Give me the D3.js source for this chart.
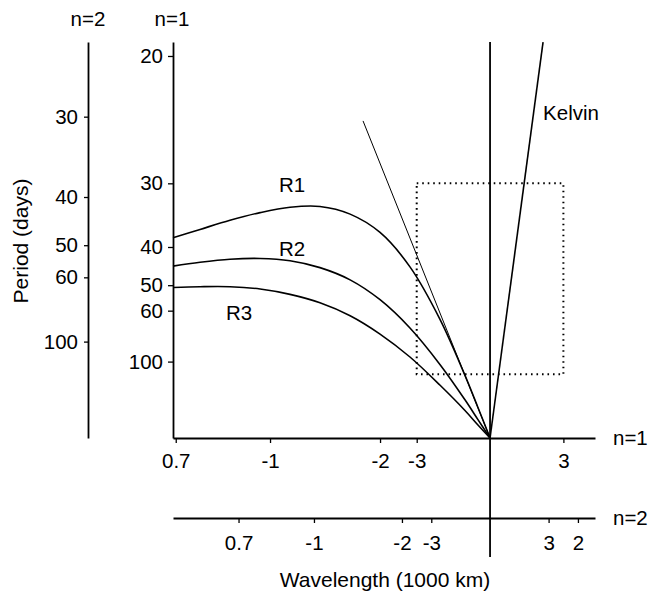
<!DOCTYPE html>
<html>
<head>
<meta charset="utf-8">
<script src="https://cdn.jsdelivr.net/npm/d3@7"></script>
<style>
  body { margin: 0; background: #fff; }
  svg text { font-family: "Liberation Sans", Arial, Helvetica, sans-serif; fill: #000; }
</style>
</head>
<body>
<svg id="canvas" width="652" height="593"></svg>
<script>
"use strict";

// === Data (wavenumber in cycles / 1000 km, frequency in cycles / day, n=1 units) ===
let waveNumber = [-1.441, -1.318, -1.182, -1.045, -0.909, -0.773, -0.636, -0.500, -0.364, -0.227, -0.114, -0.055, 0];
let r1Freq = [0.0262, 0.0273, 0.0285, 0.0295, 0.0302, 0.0303, 0.0293, 0.0269, 0.0224, 0.0155, 0.0082, 0.0040, 0];
let r2Freq = [0.0225, 0.0230, 0.0234, 0.0235, 0.0232, 0.0223, 0.0207, 0.0181, 0.0144, 0.0096, 0.0050, 0.0024, 0];
let r3Freq = [0.0197, 0.0198, 0.0198, 0.0195, 0.0188, 0.0177, 0.0160, 0.0136, 0.0106, 0.0069, 0.0036, 0.0017, 0];

let kelvinK = [0, 0.2409];
let kelvinF = [0, 0.0518];
let longWaveK = [-0.5773, 0];
let longWaveF = [0.0415, 0];

// box: wavelength +-3 (1000 km), period 30..120 days
let boxWavelength = 3;
let boxPeriods = [30, 120];

// tick labels
let periodTicks1 = [20, 30, 40, 50, 60, 100];
let periodTicks2 = [30, 40, 50, 60, 100];
let waveTicks1 = [-0.7, -1, -2, -3, 3];
let waveLabels1 = ["0.7", "-1", "-2", "-3", "3"];
let waveTicks2 = [-0.7, -1, -2, -3, 3, 2];
let waveLabels2 = ["0.7", "-1", "-2", "-3", "3", "2"];

let curveLabels = [
  { text: "R1", k: -0.90, f: 0.0331, anchor: "middle" },
  { text: "R2", k: -0.90, f: 0.0247, anchor: "middle" },
  { text: "R3", k: -1.141, f: 0.0164, anchor: "middle" },
  { text: "Kelvin", k: 0.241, f: 0.0425, anchor: "start" }
];

// === Scales ===
let x1 = d3.scaleLinear().domain([-1.441, 0.477]).range([173, 595]);
let x2 = d3.scaleLinear().domain([-1.801, 0.597]).range([173, 595]);
let y1 = d3.scaleLinear().domain([0, 0.05183]).range([438, 42]);
let y2 = d3.scaleLinear().domain([0, 0.04108]).range([438, 42]);

let svg = d3.select("#canvas");
let fs = 20.5;

function styleAxis(g) {
  g.selectAll("path.domain").attr("stroke", "#000").attr("stroke-width", 1.8);
  g.selectAll(".tick line").attr("stroke", "#000").attr("stroke-width", 1.3);
  g.selectAll(".tick text").attr("font-size", fs).attr("font-family", null);
}

// === Axes ===
svg.append("g")
  .attr("transform", "translate(0,438)")
  .call(d3.axisBottom(x1).tickValues(waveTicks1.map(L => 1 / L))
    .tickFormat((d, i) => waveLabels1[i]).tickSize(5).tickSizeOuter(0).tickPadding(10))
  .call(styleAxis);

svg.append("g")
  .attr("transform", "translate(0,518)")
  .call(d3.axisBottom(x2).tickValues(waveTicks2.map(L => 1 / L))
    .tickFormat((d, i) => waveLabels2[i]).tickSize(5).tickSizeOuter(0).tickPadding(12))
  .call(styleAxis);

svg.append("g")
  .attr("transform", "translate(173,0)")
  .call(d3.axisLeft(y1).tickValues(periodTicks1.map(p => 1 / p))
    .tickFormat((d, i) => periodTicks1[i]).tickSize(5).tickSizeOuter(0).tickPadding(5))
  .call(styleAxis);

svg.append("g")
  .attr("transform", "translate(88,0)")
  .call(d3.axisLeft(y2).tickValues(periodTicks2.map(p => 1 / p))
    .tickFormat((d, i) => periodTicks2[i]).tickSize(4).tickSizeOuter(0).tickPadding(6))
  .call(styleAxis);

// zero wavenumber line
svg.append("line")
  .attr("x1", x1(0)).attr("x2", x1(0))
  .attr("y1", 42).attr("y2", 557)
  .attr("stroke", "#000").attr("stroke-width", 1.8);

// === Dotted box ===
svg.append("rect")
  .attr("x", x1(-1 / boxWavelength))
  .attr("y", y1(1 / boxPeriods[0]))
  .attr("width", x1(1 / boxWavelength) - x1(-1 / boxWavelength))
  .attr("height", y1(1 / boxPeriods[1]) - y1(1 / boxPeriods[0]))
  .attr("fill", "none").attr("stroke", "#000")
  .attr("stroke-width", 2).attr("stroke-dasharray", "1.6,3.9");

// === Curves ===
let line = d3.line().x(d => x1(d[0])).y(d => y1(d[1])).curve(d3.curveCatmullRom.alpha(0.5));
let straight = d3.line().x(d => x1(d[0])).y(d => y1(d[1]));

[r1Freq, r2Freq, r3Freq].forEach(freq => {
  svg.append("path")
    .attr("d", line(waveNumber.map((k, i) => [k, freq[i]])))
    .attr("fill", "none").attr("stroke", "#000").attr("stroke-width", 1.6);
});

svg.append("path")
  .attr("d", straight(kelvinK.map((k, i) => [k, kelvinF[i]])))
  .attr("fill", "none").attr("stroke", "#000").attr("stroke-width", 1.6);

svg.append("path")
  .attr("d", straight(longWaveK.map((k, i) => [k, longWaveF[i]])))
  .attr("fill", "none").attr("stroke", "#000").attr("stroke-width", 1);

// === Labels ===
curveLabels.forEach(l => {
  svg.append("text")
    .attr("x", x1(l.k)).attr("y", y1(l.f)).attr("dy", "0.35em")
    .attr("text-anchor", l.anchor).attr("font-size", fs)
    .text(l.text);
});

svg.append("text").attr("x", 88).attr("y", 26).attr("text-anchor", "middle")
  .attr("font-size", fs).text("n=2");
svg.append("text").attr("x", 172).attr("y", 26).attr("text-anchor", "middle")
  .attr("font-size", fs).text("n=1");
svg.append("text").attr("x", 613).attr("y", 438).attr("dy", "0.35em")
  .attr("font-size", fs).text("n=1");
svg.append("text").attr("x", 613).attr("y", 518).attr("dy", "0.35em")
  .attr("font-size", fs).text("n=2");

svg.append("text").attr("x", 385).attr("y", 587).attr("text-anchor", "middle")
  .attr("font-size", 21).text("Wavelength (1000 km)");
svg.append("text")
  .attr("transform", "translate(28,241) rotate(-90)")
  .attr("text-anchor", "middle").attr("font-size", 21)
  .text("Period (days)");
</script>
</body>
</html>
